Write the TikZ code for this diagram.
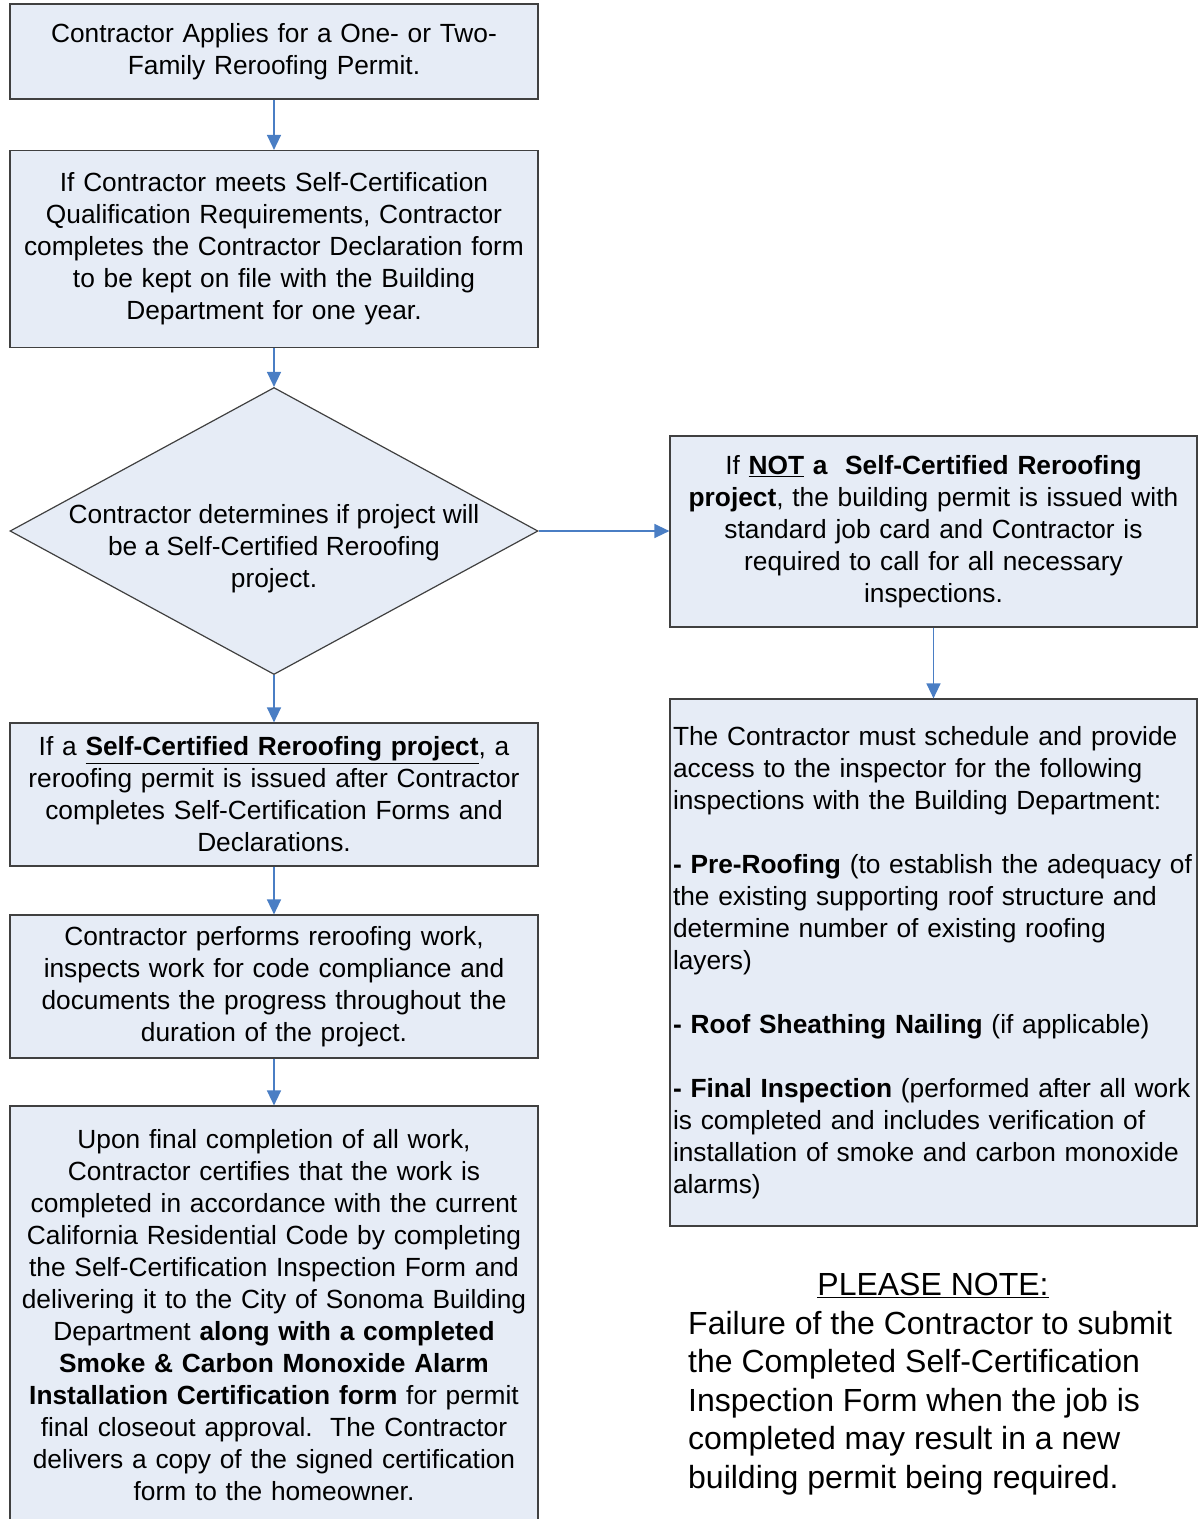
\documentclass[tikz,border=0pt]{standalone}
\usepackage{fontspec}
\setmainfont{Liberation Sans}
\usepackage{xcolor}
\usetikzlibrary{arrows.meta}
\usetikzlibrary{shapes.geometric}
\definecolor{boxfill}{RGB}{230,236,246}
\definecolor{boxline}{RGB}{64,64,64}
\definecolor{flowblue}{RGB}{74,126,196}
\newcommand{\boxfont}{\fontsize{26.3}{32}\selectfont}
\newcommand{\notefont}{\fontsize{32}{38.5}\selectfont}

\begin{document}
\begin{tikzpicture}[x=1pt,y=-1pt,
    box/.style={draw=boxline, fill=boxfill, line width=1.2pt, align=center,
      inner sep=0pt, minimum width=528pt, text width=516pt, font=\boxfont},
    decision/.style={diamond, draw=boxline, fill=boxfill, line width=1.2pt,
      inner sep=0pt, minimum width=528pt, minimum height=287pt},
    flow/.style={draw=flowblue, line width=1.4pt,
      -{Triangle[length=15pt,width=14pt]}}]
    \useasboundingbox (0,0) rectangle (1199,1519);

    % left column
    \node[box, minimum height=95pt] (apply) at (274,51.5)
      {Contractor Applies for a One- or Two-\\Family Reroofing Permit.};
    \node[box, minimum height=197pt] (declare) at (274,249)
      {If Contractor meets Self-Certification\\Qualification Requirements, Contractor\\completes the Contractor Declaration form\\to be kept on file with the Building\\Department for one year.};
    \node[decision] (decide) at (274,531) {};
    \node[align=center, inner sep=0pt, font=\boxfont] (decidetext) at (274,549)
      {Contractor determines if project will\\be a Self-Certified Reroofing\\project.};
    \node[box, minimum height=143pt] (selfcert) at (274,794.5)
      {If a \underline{\textbf{Self-Certified Reroofing project}}, a\\reroofing permit is issued after Contractor\\completes Self-Certification Forms and\\Declarations.};
    \node[box, minimum height=143pt] (work) at (274,986.5)
      {Contractor performs reroofing work,\\inspects work for code compliance and\\documents the progress throughout the\\duration of the project.};
    \node[box, minimum height=419pt] (final) at (274,1315.5)
      {Upon final completion of all work,\\Contractor certifies that the work is\\completed in accordance with the current\\California Residential Code by completing\\the Self-Certification Inspection Form and\\delivering it to the City of Sonoma Building\\Department \textbf{along with a completed}\\\textbf{Smoke \& Carbon Monoxide Alarm}\\\textbf{Installation Certification form} for permit\\final closeout approval.\ \ The Contractor\\delivers a copy of the signed certification\\form to the homeowner.};

    % right column
    \node[box, minimum width=527pt, minimum height=191pt] (notcert) at (933.5,531.5)
      {If \underline{\textbf{NOT}} \textbf{a\ \ Self-Certified Reroofing}\\\textbf{project}, the building permit is issued with\\standard job card and Contractor is\\required to call for all necessary\\inspections.};
    \node[box, minimum width=527pt, minimum height=527pt, inner xsep=3pt,
      text width=521pt, align=left] (inspect) at (933.5,962.5)
      {The Contractor must schedule and provide\\access to the inspector for the following\\inspections with the Building Department:\\[32pt]\textbf{- Pre-Roofing} (to establish the adequacy of\\the existing supporting roof structure and\\determine number of existing roofing\\layers)\\[32pt]\textbf{- Roof Sheathing Nailing} (if applicable)\\[32pt]\textbf{- Final Inspection} (performed after all work\\is completed and includes verification of\\installation of smoke and carbon monoxide\\alarms)};

    % note
    \node[inner sep=0pt, font=\notefont] (notehead) at (933,1285) {\underline{PLEASE NOTE:}};
    \node[anchor=west, align=left, inner sep=0pt, font=\notefont] (notebody) at (688,1403)
      {Failure of the Contractor to submit\\the Completed Self-Certification\\Inspection Form when the job is\\completed may result in a new\\building permit being required.};

    % connectors
    \draw[flow] (apply) -- (declare);
    \draw[flow] (declare) -- (decide);
    \draw[flow] (decide) -- (selfcert);
    \draw[flow] (selfcert) -- (work);
    \draw[flow] (work) -- (final);
    \draw[flow] (decide.east) -- (notcert.west |- decide.east);
    \draw[flow] (notcert) -- (inspect);
\end{tikzpicture}
\end{document}
